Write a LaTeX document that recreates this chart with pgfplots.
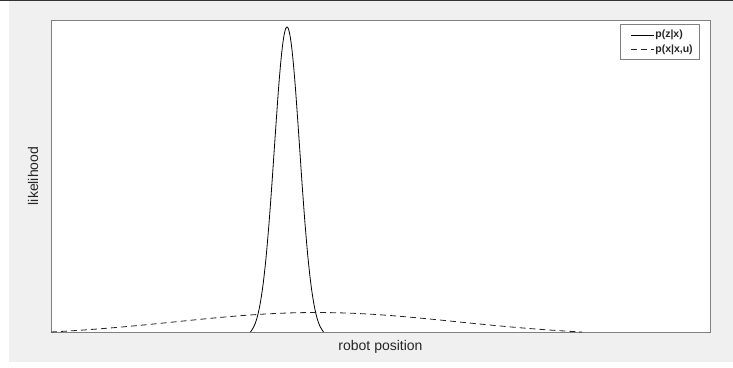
\documentclass[border=0pt]{standalone}
\usepackage{pgfplots}
\pgfplotsset{compat=1.18}
\usepackage{fontspec}
\setmainfont{Liberation Sans}
\definecolor{figbg}{HTML}{F0F0F0}
\definecolor{axcol}{HTML}{808080}
\begin{document}
\begin{tikzpicture}[x=1pt,y=1pt]
\useasboundingbox (0,0) rectangle (733,367);
\fill[white] (0,0) rectangle (733,367);
\fill[figbg] (9,5) rectangle (733,366);
\draw[black!80,line width=1pt] (0,366.5) -- (733,366.5);
\begin{axis}[
  at={(51pt,35pt)}, anchor=south west,
  scale only axis, width=659pt, height=312pt,
  xmin=0, xmax=659, ymin=0, ymax=312,
  xtick=\empty, ytick=\empty,
  axis line style={axcol, line width=0.7pt},
  axis background/.style={fill=white},
  xlabel={robot position}, ylabel={likelihood},
  label style={font=\fontsize{14}{16}\selectfont, text=black!85},
  xlabel style={at={(axis description cs:0.5,0)}, anchor=center, yshift=-15pt},
  ylabel style={at={(axis description cs:0,0.5)}, anchor=center, yshift=18pt},
  legend style={at={(1,1)}, anchor=north east, xshift=-10pt, yshift=-4pt,
    draw=axcol, line width=0.6pt, font=\fontsize{10.5}{12}\selectfont\bfseries,
    row sep=3pt, inner xsep=6pt, inner ysep=5pt,
    nodes={inner sep=1pt, text=black!85},
    /tikz/every even column/.append style={column sep=0pt}},
  legend cell align=left,
  legend image code/.code={\path (0pt,0pt); \draw[#1, line width=0.6pt] (4pt,0pt) -- (27pt,0pt);},
]
\addplot[black, line width=0.8pt, smooth] coordinates {
(199.5,0) (203,5.6) (206,14.0) (209,27.4) (212,47.0) (215,74.0) (218,108.6)
(221,149.3) (224,193.4) (227,236.2) (228.5,255.4) (230,272.3) (231.5,286.2)
(233,296.5) (234.5,302.9) (236,305) (237.5,302.9) (239,296.5) (240.5,286.2)
(242,272.3) (243.5,255.4) (245,236.2) (248,193.4) (251,149.3) (254,108.6)
(257,74.0) (260,47.0) (263,27.4) (266,14.0) (269,5.6) (272.5,0)
};
\addlegendentry{p(z|x)}
\addplot[black!85, line width=0.8pt, dash pattern=on 6pt off 4pt, smooth] coordinates {
(0,0) (15.5,0.87) (40.5,2.55) (65.5,4.55) (90.5,6.83) (115.5,9.29) (140.5,11.82)
(165.5,14.24) (190.5,16.38) (215.5,18.06) (240.5,19.13) (265.5,19.5)
(290.5,19.13) (315.5,18.06) (340.5,16.38) (365.5,14.24) (390.5,11.82)
(415.5,9.29) (440.5,6.83) (465.5,4.55) (490.5,2.55) (515.5,0.87) (531,0)
};
\addlegendentry{p(x|x,u)}
\end{axis}
\end{tikzpicture}
\end{document}
